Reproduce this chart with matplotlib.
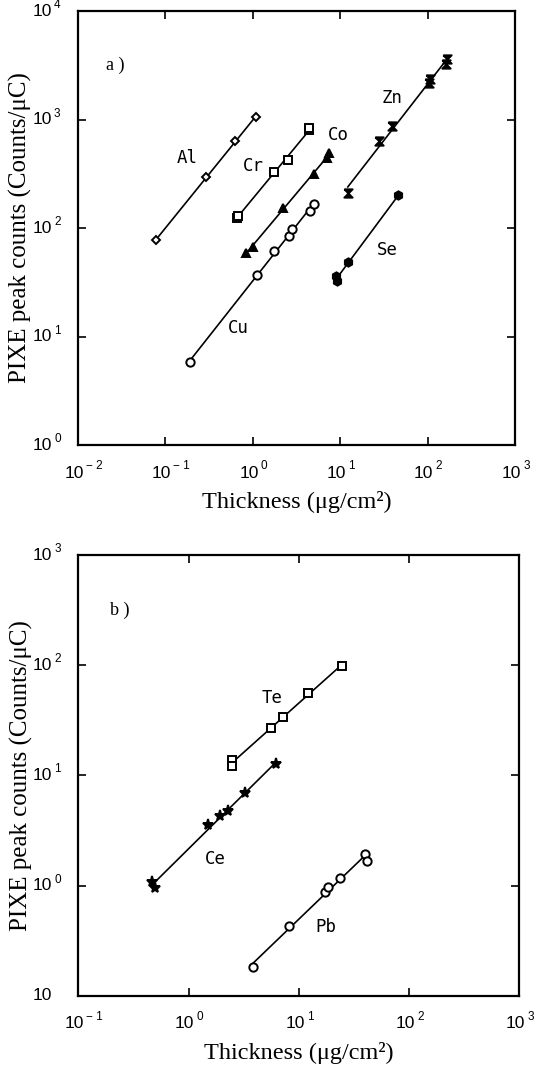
import numpy as np
import matplotlib
matplotlib.use("Agg")
import matplotlib.pyplot as plt
import matplotlib.transforms as mtransforms

# ---------------- data ----------------
# panel a
al_x = [0.079, 0.29, 0.62, 1.10]
al_y = [78, 294, 629, 1060]
cr_x = [0.66, 0.67, 1.76, 2.53, 4.38, 4.45]
cr_y = [124, 130, 325, 426, 805, 830]
co_x = [0.83, 1.00, 2.21, 5.05, 6.98, 7.45]
co_y = [59, 67, 153, 314, 439, 492]
cu_x = [0.189, 1.12, 1.76, 2.57, 2.81, 4.53, 4.97]
cu_y = [5.8, 37, 61, 85, 98, 145, 165]
zn_x = [12.2, 28.0, 38.7, 104, 106, 164, 167]
zn_y = [211, 629, 865, 2190, 2350, 3250, 3580]
se_x = [8.9, 9.3, 12.4, 46.3]
se_y = [35.8, 32.3, 49, 200]

# panel b
te_x = [2.47, 2.47, 5.61, 7.10, 12.05, 24.6]
te_y = [13.8, 12.1, 27.0, 34.1, 55.8, 98.4]
ce_x = [0.46, 0.495, 1.50, 1.92, 2.27, 3.24, 6.15]
ce_y = [1.07, 0.96, 3.56, 4.31, 4.72, 6.95, 12.6]
pb_x = [3.84, 8.19, 17.2, 18.2, 23.4, 40.0, 41.4]
pb_y = [0.182, 0.43, 0.875, 0.98, 1.17, 1.96, 1.66]

# tick labels
a_xticks = [1e-2, 1e-1, 1e0, 1e1, 1e2, 1e3]
a_xsup = ["\u2212 2", "\u2212 1", "0", "1", "2", "3"]
a_yticks = [1e0, 1e1, 1e2, 1e3, 1e4]
a_ysup = ["0", "1", "2", "3", "4"]
b_xticks = [1e-1, 1e0, 1e1, 1e2, 1e3]
b_xsup = ["\u2212 1", "0", "1", "2", "3"]
b_yticks = [1e-1, 1e0, 1e1, 1e2, 1e3]
b_ysup = ["", "0", "1", "2", "3"]

xlabel = "Thickness (\u03bcg/cm\u00b2)"
ylabel = "PIXE peak counts (Counts/\u03bcC)"

hourglass = [(-1, 1), (1, 1), (-1, -1), (1, -1), (-1, 1)]

SERIF = ["Liberation Serif", "DejaVu Serif"]
SANS = ["Liberation Sans", "DejaVu Sans"]
MONO = ["DejaVu Sans Mono"]

fig = plt.figure(figsize=(5.34, 10.70), dpi=100)
ax_a = fig.add_axes([0.1461, 0.5841, 0.8184, 0.4056])
ax_b = fig.add_axes([0.1470, 0.0692, 0.8258, 0.4121])


def series(ax, x, y, marker, filled, ms):
    x = np.asarray(x, float)
    y = np.asarray(y, float)
    p = np.polyfit(np.log10(x), np.log10(y), 1)
    xx = np.array([x.min(), x.max()])
    ax.plot(xx, 10 ** np.polyval(p, np.log10(xx)), color="black", lw=1.2, zorder=2)
    ax.plot(x, y, linestyle="none", marker=marker, ms=ms,
            mfc="black" if filled else "white", mec="black", mew=1.4, zorder=3)


def style(ax, xlim, ylim, xt, xs, yt, ys):
    ax.set_xscale("log")
    ax.set_yscale("log")
    ax.set_xlim(*xlim)
    ax.set_ylim(*ylim)
    ax.xaxis.set_major_locator(matplotlib.ticker.FixedLocator(xt))
    ax.yaxis.set_major_locator(matplotlib.ticker.FixedLocator(yt))
    ax.xaxis.set_minor_locator(matplotlib.ticker.NullLocator())
    ax.yaxis.set_minor_locator(matplotlib.ticker.NullLocator())
    ax.tick_params(which="major", direction="in", length=6, width=1.2,
                   top=True, right=True, labelbottom=False, labelleft=False)
    for s in ax.spines.values():
        s.set_linewidth(1.6)
    tx = mtransforms.blended_transform_factory(ax.transData, ax.transAxes)
    ty = mtransforms.blended_transform_factory(ax.transAxes, ax.transData)
    for v, s in zip(xt, xs):
        ax.annotate("10", xy=(v, 0), xycoords=tx, xytext=(-4, -28),
                    textcoords="offset pixels", ha="center", va="center",
                    fontsize=12.5, family=SANS, annotation_clip=False)
        ax.annotate(s, xy=(v, 0), xycoords=tx, xytext=(8, -21),
                    textcoords="offset pixels", ha="left", va="center",
                    fontsize=8.5, family=SANS, annotation_clip=False)
    for v, s in zip(yt, ys):
        ax.annotate("10", xy=(0, v), xycoords=ty, xytext=(-26, 0),
                    textcoords="offset pixels", ha="right", va="center",
                    fontsize=12.5, family=SANS, annotation_clip=False)
        if s:
            ax.annotate(s, xy=(0, v), xycoords=ty, xytext=(-24, 6),
                        textcoords="offset pixels", ha="left", va="center",
                        fontsize=8.5, family=SANS, annotation_clip=False)
    ax.set_xlabel(xlabel, fontsize=17.5, family=SERIF, labelpad=33)
    ax.set_ylabel(ylabel, fontsize=18, family=SERIF, labelpad=33)


# ---- panel a ----
series(ax_a, al_x, al_y, "D", False, 4.5)
series(ax_a, cr_x, cr_y, "s", False, 5.5)
series(ax_a, co_x, co_y, "^", True, 5.5)
series(ax_a, cu_x, cu_y, "o", False, 6)
series(ax_a, zn_x, zn_y, hourglass, True, 6)
series(ax_a, se_x, se_y, "h", True, 6)
style(ax_a, (1e-2, 1e3), (1e0, 1e4), a_xticks, a_xsup, a_yticks, a_ysup)

ax_a.text(0.086, 0.874, "a )", transform=ax_a.transAxes, fontsize=13,
          family=SERIF, ha="center", va="center")
for name, x, y in [("Al", 0.179, 438), ("Cr", 1.02, 376), ("Co", 9.4, 722),
                   ("Zn", 39.1, 1578), ("Se", 34.7, 63), ("Cu", 0.69, 11.9)]:
    ax_a.text(x, y, name, fontsize=12.5, family=MONO, ha="center", va="center")

# ---- panel b ----
series(ax_b, te_x, te_y, "s", False, 5.5)
series(ax_b, ce_x, ce_y, "*", True, 8)
series(ax_b, pb_x, pb_y, "o", False, 6)
style(ax_b, (1e-1, 1e3), (1e-1, 1e3), b_xticks, b_xsup, b_yticks, b_ysup)

ax_b.text(0.093, 0.874, "b )", transform=ax_b.transAxes, fontsize=13,
          family=SERIF, ha="center", va="center")
for name, x, y in [("Te", 5.69, 50.6), ("Ce", 1.76, 1.74), ("Pb", 17.6, 0.423)]:
    ax_b.text(x, y, name, fontsize=12.5, family=MONO, ha="center", va="center")

fig.savefig("out.png", dpi=100)
